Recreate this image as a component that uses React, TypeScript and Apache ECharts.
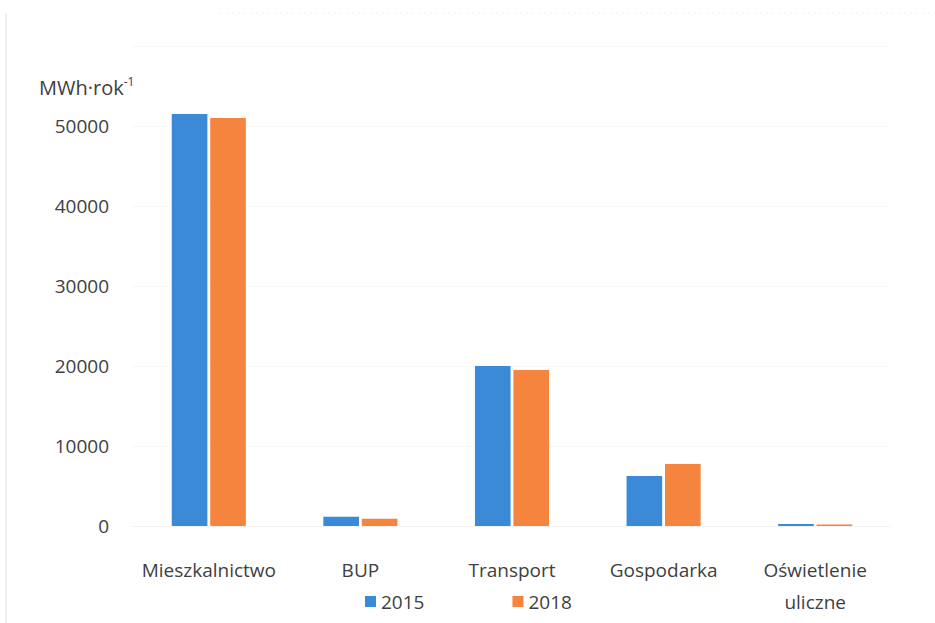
import React, { useEffect, useRef } from "react";
import * as echarts from "echarts";

const categories = ["Mieszkalnictwo", "BUP", "Transport", "Gospodarka", "Oświetlenie\nuliczne"];
const values2015 = [51500, 1150, 20000, 6250, 250];
const values2018 = [51000, 900, 19500, 7750, 200];
const yTicks = [0, 10000, 20000, 30000, 40000, 50000];

export default function App() {
  const ref = useRef<HTMLDivElement>(null);
  useEffect(() => {
    if (!ref.current) return;
    const chart = echarts.init(ref.current, null, { renderer: "svg" });
    const font = "Open Sans";
    chart.setOption({
      animation: false,
      backgroundColor: "#ffffff",
      textStyle: { fontFamily: font },
      title: {
        text: "{a|MWh·rok}{s|-1}",
        left: 34,
        top: 70,
        textStyle: {
          fontWeight: "normal",
          rich: {
            a: { fontSize: 20, color: "#404040", fontFamily: font, fontWeight: "normal", verticalAlign: "bottom" },
            s: { fontSize: 12, color: "#404040", fontFamily: font, fontWeight: "normal", verticalAlign: "top", padding: [0, 0, 10, 0] },
          },
        },
      },
      legend: {
        left: 360,
        top: 587,
        itemWidth: 11,
        itemHeight: 11,
        itemGap: 88,
        icon: "rect",
        textStyle: { fontSize: 19, color: "#404040", fontFamily: font },
        data: ["2015", "2018"],
      },
      grid: { left: 133, right: 44, top: 46, bottom: 97 },
      xAxis: {
        type: "category",
        data: categories,
        axisLine: { show: true, lineStyle: { color: "#efefef", type: "dotted" } },
        axisTick: { show: false },
        axisLabel: { interval: 0, fontSize: 19, color: "#404040", margin: 28, lineHeight: 32, fontFamily: font },
      },
      yAxis: {
        type: "value",
        min: 0,
        max: 60000,
        interval: 10000,
        axisLine: { show: false },
        axisTick: { show: false },
        splitLine: { show: true, lineStyle: { color: "#f2f2f2", type: "dotted" } },
        axisLabel: {
          fontSize: 19,
          color: "#404040",
          margin: 24,
          fontFamily: font,
          formatter: (v: number) => (yTicks.indexOf(v) >= 0 ? String(v) : ""),
        },
      },
      series: [
        {
          name: "2015",
          type: "bar",
          data: values2015,
          barWidth: "23.5%",
          barGap: "8%",
          itemStyle: { color: "#3a8ad8" },
        },
        {
          name: "2018",
          type: "bar",
          data: values2018,
          barWidth: "23.5%",
          barGap: "8%",
          itemStyle: { color: "#f4843e" },
        },
      ],
      graphic: [
        { type: "line", shape: { x1: 6, y1: 13, x2: 6, y2: 623 }, style: { stroke: "#e2e2e2", lineWidth: 1 } },
        { type: "line", shape: { x1: 220, y1: 13, x2: 935, y2: 13 }, style: { stroke: "#f0f0f0", lineWidth: 1, lineDash: [2, 4] } },
      ],
    });
    return () => chart.dispose();
  }, []);
  return <div ref={ref} style={{ position: "fixed", left: 0, top: 0, width: 935, height: 623 }} />;
}
